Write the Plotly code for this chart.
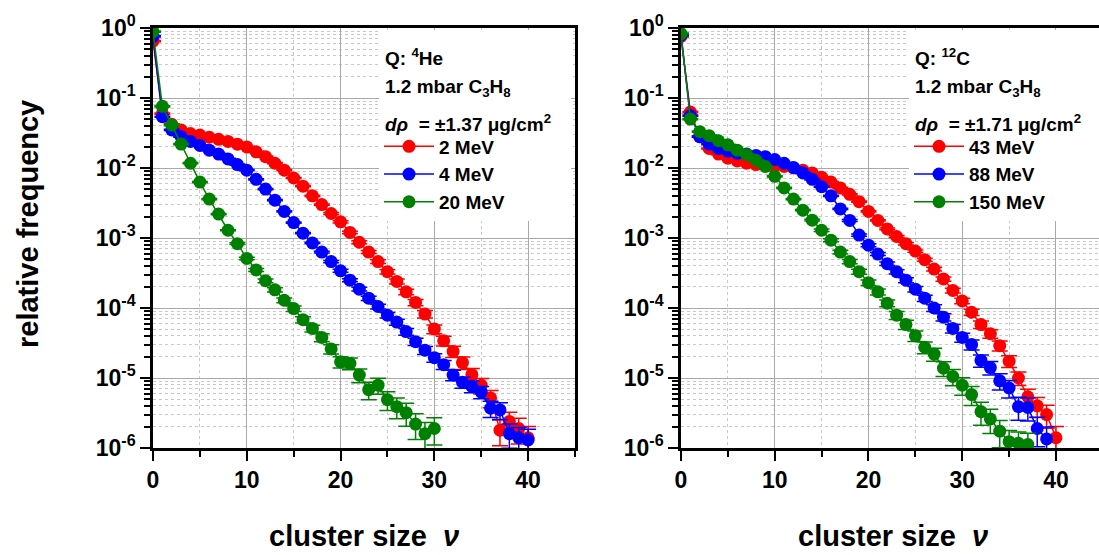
import plotly.graph_objects as go

# ---------------- data ----------------
nu_left_rb = list(range(0, 41))
nu_left_g = list(range(0, 31))
nu_right_r = list(range(0, 41))
nu_right_b = list(range(0, 40))
nu_right_g = list(range(0, 38))

he_2MeV = [0.65, 0.060, 0.042, 0.035, 0.031, 0.0295, 0.0275, 0.0257, 0.024, 0.0219,
           0.020, 0.017, 0.0145, 0.0117, 0.0093, 0.0072, 0.0055, 0.0040, 0.0030, 0.00224,
           0.0017, 0.0012, 8.7e-4, 6.3e-4, 4.6e-4, 3.3e-4, 2.4e-4, 1.7e-4, 1.2e-4, 8.2e-5,
           5.0e-5, 3.4e-5, 2.4e-5, 1.66e-5, 1.12e-5, 7.9e-6, 5.2e-6, 1.8e-6, 2.4e-6, 1.9e-6,
           1.4e-6]
he_4MeV = [0.76, 0.054, 0.035, 0.028, 0.024, 0.021, 0.018, 0.0158, 0.0135, 0.0112,
           0.0093, 0.0069, 0.0050, 0.00347, 0.0024, 0.00166, 0.00117, 8.5e-4, 6.3e-4, 4.6e-4,
           3.4e-4, 2.5e-4, 1.86e-4, 1.38e-4, 1.05e-4, 7.9e-5, 6.3e-5, 4.6e-5, 3.3e-5, 2.5e-5,
           1.95e-5, 1.55e-5, 1.1e-5, 8.7e-6, 7.6e-6, 6.3e-6, 3.7e-6, 3.5e-6, 1.6e-6, 1.4e-6,
           1.3e-6]
he_20MeV = [0.89, 0.076, 0.041, 0.022, 0.0117, 0.0063, 0.0036, 0.0022, 0.00129, 8.3e-4,
            5.1e-4, 3.5e-4, 2.45e-4, 1.82e-4, 1.29e-4, 9.8e-5, 6.8e-5, 5.1e-5, 3.8e-5, 2.6e-5,
            1.7e-5, 1.62e-5, 1.1e-5, 6.8e-6, 7.9e-6, 4.9e-6, 3.9e-6, 3.2e-6, 2.2e-6, 1.6e-6,
            1.9e-6]

c_43MeV = [0.76, 0.063, 0.028, 0.019, 0.0158, 0.0138, 0.0126, 0.0117, 0.0112, 0.011,
           0.0107, 0.0105, 0.0100, 0.0093, 0.0085, 0.0074, 0.0063, 0.0052, 0.0042, 0.0033,
           0.0024, 0.00178, 0.00135, 0.00105, 8.3e-4, 6.5e-4, 4.9e-4, 3.6e-4, 2.6e-4, 1.78e-4,
           1.26e-4, 8.7e-5, 5.8e-5, 4.3e-5, 2.9e-5, 1.74e-5, 1.0e-5, 5.4e-6, 4.0e-6, 3.0e-6,
           1.4e-6]
c_88MeV = [0.79, 0.056, 0.028, 0.022, 0.019, 0.0174, 0.0162, 0.0158, 0.0151, 0.0145,
           0.0132, 0.0117, 0.0102, 0.0085, 0.0069, 0.0054, 0.0040, 0.0026, 0.00178, 0.0011,
           7.9e-4, 5.9e-4, 4.3e-4, 3.3e-4, 2.5e-4, 1.86e-4, 1.38e-4, 1.0e-4, 7.4e-5, 5.1e-5,
           3.8e-5, 3.0e-5, 1.78e-5, 1.41e-5, 9.1e-6, 7.2e-6, 3.9e-6, 3.8e-6, 1.9e-6, 1.35e-6]
c_150MeV = [0.83, 0.050, 0.033, 0.029, 0.0245, 0.0214, 0.018, 0.0155, 0.0129, 0.0105,
            0.0076, 0.0052, 0.0036, 0.0025, 0.0018, 0.00129, 9.3e-4, 6.3e-4, 4.6e-4, 3.3e-4,
            2.3e-4, 1.7e-4, 1.17e-4, 7.9e-5, 5.8e-5, 4.0e-5, 2.75e-5, 2.2e-5, 1.38e-5, 1.05e-5,
            7.9e-6, 5.8e-6, 3.3e-6, 2.6e-6, 1.74e-6, 1.23e-6, 1.17e-6, 1.12e-6]

# relative uncertainties
rel_2MeV = [0.02, 0.02, 0.02, 0.02, 0.02, 0.02, 0.02, 0.02, 0.02, 0.02,
            0.02, 0.02, 0.02, 0.02, 0.02, 0.02, 0.02, 0.02, 0.02, 0.03,
            0.04, 0.04, 0.05, 0.05, 0.06, 0.07, 0.08, 0.09, 0.10, 0.12,
            0.14, 0.16, 0.18, 0.20, 0.22, 0.25, 0.28, 0.40, 0.35, 0.40, 0.45]
rel_4MeV = [0.02, 0.02, 0.02, 0.02, 0.02, 0.02, 0.02, 0.02, 0.02, 0.02,
            0.02, 0.02, 0.02, 0.02, 0.02, 0.02, 0.02, 0.02, 0.03, 0.04,
            0.05, 0.05, 0.06, 0.07, 0.08, 0.09, 0.10, 0.11, 0.12, 0.13,
            0.14, 0.15, 0.17, 0.18, 0.19, 0.20, 0.26, 0.27, 0.38, 0.40, 0.42]
rel_20MeV = [0.02, 0.02, 0.02, 0.02, 0.02, 0.02, 0.02, 0.02, 0.02, 0.03,
             0.04, 0.05, 0.06, 0.07, 0.08, 0.09, 0.10, 0.11, 0.13, 0.15,
             0.18, 0.19, 0.22, 0.28, 0.26, 0.30, 0.33, 0.36, 0.40, 0.45, 0.42]
rel_43MeV = [0.02, 0.02, 0.02, 0.02, 0.02, 0.02, 0.02, 0.02, 0.02, 0.02,
             0.02, 0.02, 0.02, 0.02, 0.02, 0.02, 0.02, 0.02, 0.02, 0.02,
             0.02, 0.02, 0.03, 0.03, 0.04, 0.04, 0.05, 0.06, 0.07, 0.08,
             0.09, 0.10, 0.12, 0.14, 0.16, 0.19, 0.22, 0.28, 0.32, 0.36, 0.45]
rel_88MeV = [0.02, 0.02, 0.02, 0.02, 0.02, 0.02, 0.02, 0.02, 0.02, 0.02,
             0.02, 0.02, 0.02, 0.02, 0.02, 0.02, 0.02, 0.02, 0.03, 0.04,
             0.05, 0.05, 0.06, 0.07, 0.08, 0.09, 0.10, 0.11, 0.12, 0.14,
             0.15, 0.16, 0.20, 0.22, 0.26, 0.28, 0.36, 0.36, 0.45, 0.48]
rel_150MeV = [0.02, 0.02, 0.02, 0.02, 0.02, 0.02, 0.02, 0.02, 0.02, 0.02,
              0.02, 0.02, 0.02, 0.02, 0.03, 0.04, 0.05, 0.06, 0.07, 0.08,
              0.09, 0.10, 0.11, 0.13, 0.15, 0.17, 0.19, 0.21, 0.24, 0.26,
              0.28, 0.30, 0.36, 0.38, 0.42, 0.45, 0.45, 0.45]

ytick_vals = [1e-6, 1e-5, 1e-4, 1e-3, 1e-2, 1e-1, 1e0]
ytick_text = ["10<sup>-6</sup>", "10<sup>-5</sup>", "10<sup>-4</sup>", "10<sup>-3</sup>",
              "10<sup>-2</sup>", "10<sup>-1</sup>", "10<sup>0</sup>"]
xtick_vals = [0, 10, 20, 30, 40]

RED, BLUE, GREEN = "#ff0000", "#0000ff", "#008000"
FONT = "Liberation Sans, Arial, sans-serif"

# ---------------- figure ----------------
fig = go.Figure()


def add_series(x, y, rel, color, name, xa, ya, legend):
    err = [v * r for v, r in zip(y, rel)]
    fig.add_trace(go.Scatter(
        x=x, y=y, name=name, mode="lines+markers",
        xaxis=xa, yaxis=ya, legend=legend,
        line=dict(color=color, width=1.5),
        marker=dict(color=color, size=13, symbol="circle"),
        error_y=dict(type="data", array=err, arrayminus=err, symmetric=False,
                     color=color, thickness=1.5, width=8),
    ))


add_series(nu_left_rb, he_2MeV, rel_2MeV, RED, "2 MeV", "x", "y", "legend")
add_series(nu_left_rb, he_4MeV, rel_4MeV, BLUE, "4 MeV", "x", "y", "legend")
add_series(nu_left_g, he_20MeV, rel_20MeV, GREEN, "20 MeV", "x", "y", "legend")
add_series(nu_right_r, c_43MeV, rel_43MeV, RED, "43 MeV", "x2", "y2", "legend2")
add_series(nu_right_b, c_88MeV, rel_88MeV, BLUE, "88 MeV", "x2", "y2", "legend2")
add_series(nu_right_g, c_150MeV, rel_150MeV, GREEN, "150 MeV", "x2", "y2", "legend2")

W, H = 1099, 555
ydom = [1 - 448 / H, 1 - 28 / H]
minor_y = [m * 10.0 ** e for e in range(-6, 0) for m in range(2, 10)]

xcommon = dict(
    tickvals=xtick_vals, ticks="outside", ticklen=10, tickwidth=2, tickcolor="black",
    showline=True, linecolor="black", linewidth=2.5,
    showgrid=True, gridcolor="#a8a8a8", gridwidth=1, zeroline=False,
    minor=dict(dtick=5, tick0=0, ticks="outside", ticklen=6, tickwidth=2, tickcolor="black",
               showgrid=True, gridcolor="#c8c8c8", griddash="dot", gridwidth=1),
    tickfont=dict(family=FONT, size=23, color="black", weight="bold"),
)
ycommon = dict(
    type="log", range=[-6, 0], domain=ydom,
    tickvals=ytick_vals, ticktext=ytick_text, ticks="outside", ticklen=10, tickwidth=2,
    tickcolor="black", showline=True, linecolor="black", linewidth=2.5,
    showgrid=True, gridcolor="#a8a8a8", gridwidth=1, zeroline=False,
    minor=dict(tickvals=minor_y, ticks="outside", ticklen=6, tickwidth=1.5, tickcolor="black",
               showgrid=True, gridcolor="#c8c8c8", griddash="dot", gridwidth=1),
    tickfont=dict(family=FONT, size=23, color="black", weight="bold"),
)

legfont = dict(family=FONT, size=19, color="black", weight="bold")
# the legend box is white (it hides the grid behind the text block); its blank
# title reserves room for the header lines that are written on top of it
blank_title = "<br>".join(["&nbsp;" * 45] * 5)
legend_common = dict(
    xanchor="left", yanchor="top", bgcolor="white", borderwidth=0,
    itemwidth=50, font=legfont,
    title=dict(text=blank_title, font=dict(family=FONT, size=15, color="white")),
)
fig.update_layout(
    width=W, height=H, margin=dict(l=0, r=0, t=0, b=0, autoexpand=False),
    paper_bgcolor="white", plot_bgcolor="white",
    font=dict(family=FONT, color="black"),
    xaxis=dict(domain=[153 / W, 575 / W], range=[0, 45], anchor="y", mirror=True, **xcommon),
    xaxis2=dict(domain=[681 / W, 1.0], range=[0, 44.59], anchor="y2", mirror=True, **xcommon),
    yaxis=dict(anchor="x", mirror=True, **ycommon),
    yaxis2=dict(anchor="x2", mirror=False, **ycommon),
    legend=dict(x=379 / W, y=1 - 30 / H, **legend_common),
    legend2=dict(x=909 / W, y=1 - 30 / H, **legend_common),
)

hfont = dict(family=FONT, size=19, color="black", weight="bold")
left_header = ["Q: <sup>4</sup>He", "1.2 mbar C<sub>3</sub>H<sub>8</sub>",
               "<i>dρ</i>  = ±1.37 μg/cm<sup>2</sup>"]
right_header = ["Q: <sup>12</sup>C", "1.2 mbar C<sub>3</sub>H<sub>8</sub>",
                "<i>dρ</i>  = ±1.71 μg/cm<sup>2</sup>"]
header_y = [57, 88, 123]
for txt, yy in zip(left_header, header_y):
    fig.add_annotation(text=txt, xref="paper", yref="paper", x=383 / W, y=1 - yy / H,
                       xanchor="left", yanchor="middle", showarrow=False, font=hfont)
for txt, yy in zip(right_header, header_y):
    fig.add_annotation(text=txt, xref="paper", yref="paper", x=913 / W, y=1 - yy / H,
                       xanchor="left", yanchor="middle", showarrow=False, font=hfont)

tfont = dict(family=FONT, size=29, color="black", weight="bold")
fig.add_annotation(text="relative frequency", xref="paper", yref="paper", x=28 / W, y=1 - 224 / H,
                   textangle=-90, xanchor="center", yanchor="middle", showarrow=False, font=tfont)
fig.add_annotation(text="cluster size  <i>ν</i>", xref="paper", yref="paper", x=364 / W, y=1 - 536 / H,
                   xanchor="center", yanchor="middle", showarrow=False, font=tfont)
fig.add_annotation(text="cluster size  <i>ν</i>", xref="paper", yref="paper", x=893 / W, y=1 - 536 / H,
                   xanchor="center", yanchor="middle", showarrow=False, font=tfont)

fig.write_html("out.html")
